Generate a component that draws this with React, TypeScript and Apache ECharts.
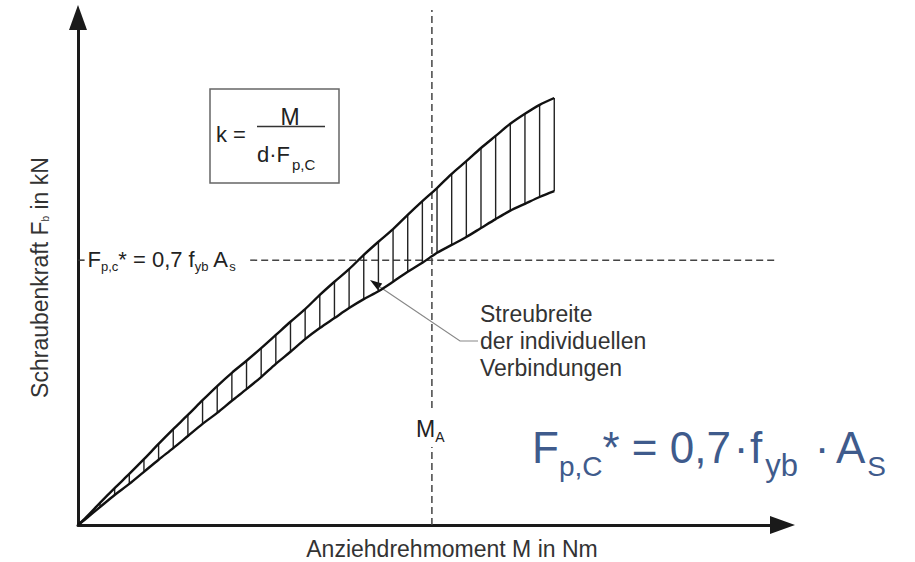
import React, { useEffect, useRef } from 'react';
import * as echarts from 'echarts';

// Torque positions (arbitrary units) where the scatter band is sampled / hatched
const torque = [0, 1, 3, 5, 7, 9, 11, 13, 15, 17, 19, 21, 23, 25, 27, 29, 31, 33, 35, 37, 39, 41, 43, 45, 47, 49, 51, 53, 55, 57, 59, 61, 63, 65];
// Upper bound of bolt force (arbitrary units)
const upperForce = [0, 1.3, 4.2, 7.0, 9.7, 12.5, 15.4, 18.2, 20.9, 23.7, 26.4, 28.9, 31.2, 33.6, 36.1, 38.6, 41.0, 43.7, 46.2, 48.6, 51.3, 53.8, 56.2, 58.9, 61.5, 64.0, 66.7, 69.1, 71.6, 73.9, 76.2, 78.1, 79.8, 81.1];
// Lower bound of bolt force
const lowerForce = [0, 1.1, 3.4, 5.7, 7.8, 10.1, 12.4, 14.6, 16.9, 19.2, 21.3, 23.6, 25.8, 28.1, 30.6, 32.9, 35.3, 37.4, 39.3, 41.2, 42.9, 44.4, 46.2, 48.1, 49.8, 51.7, 53.2, 54.7, 56.4, 58.1, 59.7, 61.0, 62.3, 63.4];

const fStar = 50.3; // F_p,C* level
const mA = 48.3; // tightening moment M_A
const fStarLineRange = [23.5, 95.5];
const mALower = [0, 14.8];
const mAUpper = [22.2, 97.8];
const axisMaxX = 96.15;
const axisMaxY = 96.39;

const xAxisName = 'Anziehdrehmoment M in Nm';
const yAxisName = '{m|Schraubenkraft F}{s|b}{m| in kN}';
const annotationText = 'Streubreite\nder individuellen\nVerbindungen';

const FONT = '"Liberation Sans", Arial, Helvetica, sans-serif';
const BLUE = '#3f5b8c';

export default function App() {
  const ref = useRef<HTMLDivElement>(null);

  useEffect(() => {
    if (!ref.current) return;
    const chart = echarts.init(ref.current, null, { renderer: 'svg' });

    const upperData = torque.map((x, i) => [x, upperForce[i]]);
    const lowerData = torque.map((x, i) => [x, lowerForce[i]]);
    const hatchData = torque.map((x, i) => [x, lowerForce[i], upperForce[i]]).filter((d) => d[0] >= 3);

    const dashStyle = { color: '#444', width: 1.5, type: [7, 4] as any };

    const axisCommon = {
      type: 'value' as const,
      min: 0,
      axisLine: {
        show: true,
        symbol: ['none', 'triangle'],
        symbolSize: [18, 25],
        lineStyle: { color: '#1a1a1a', width: 3 },
      },
      axisTick: { show: false },
      axisLabel: { show: false },
      splitLine: { show: false },
    };

    const option: any = {
      animation: false,
      backgroundColor: '#ffffff',
      grid: { left: 78, top: 17.5, width: 704.5, height: 507.5 },
      xAxis: { ...axisCommon, max: axisMaxX },
      yAxis: { ...axisCommon, max: axisMaxY },
      series: [
        {
          type: 'custom',
          silent: true,
          data: hatchData,
          encode: { x: 0, y: [1, 2] },
          renderItem: (params: any, api: any) => {
            const x = api.value(0);
            const p1 = api.coord([x, api.value(1)]);
            const p2 = api.coord([x, api.value(2)]);
            return {
              type: 'line',
              shape: { x1: p1[0], y1: p1[1], x2: p2[0], y2: p2[1] },
              style: { stroke: '#222', lineWidth: 1.4 },
            };
          },
          z: 2,
        },
        {
          type: 'line',
          silent: true,
          data: upperData,
          symbol: 'none',
          smooth: 0.3,
          lineStyle: { color: '#111', width: 2.4 },
          z: 3,
        },
        {
          type: 'line',
          silent: true,
          data: lowerData,
          symbol: 'none',
          smooth: 0.3,
          lineStyle: { color: '#111', width: 2.4 },
          z: 3,
        },
        {
          type: 'line',
          silent: true,
          data: [[fStarLineRange[0], fStar], [fStarLineRange[1], fStar]],
          symbol: 'none',
          lineStyle: dashStyle,
          z: 1,
        },
        {
          type: 'line',
          silent: true,
          data: [[0, fStar], [0.9, fStar]],
          symbol: 'none',
          lineStyle: { color: '#333', width: 1.5 },
          z: 1,
        },
        {
          type: 'line',
          silent: true,
          clip: false,
          data: [[mA, mALower[0]], [mA, mALower[1]]],
          symbol: 'none',
          lineStyle: dashStyle,
          z: 1,
        },
        {
          type: 'line',
          silent: true,
          clip: false,
          data: [[mA, mAUpper[0]], [mA, mAUpper[1]]],
          symbol: 'none',
          lineStyle: dashStyle,
          z: 1,
        },
      ],
      graphic: [
        // formula box
        {
          type: 'rect',
          shape: { x: 210, y: 89, width: 129, height: 94 },
          style: { fill: 'none', stroke: '#666', lineWidth: 1.5 },
        },
        {
          type: 'text',
          x: 216,
          y: 134.4,
          style: { text: 'k =', fontSize: 22, fontFamily: FONT, fill: '#222', align: 'left', verticalAlign: 'middle' },
        },
        {
          type: 'line',
          shape: { x1: 257, y1: 126.5, x2: 325, y2: 126.5 },
          style: { stroke: '#333', lineWidth: 1.3 },
        },
        {
          type: 'text',
          x: 290,
          y: 117,
          style: { text: 'M', fontSize: 23, fontFamily: FONT, fill: '#222', align: 'center', verticalAlign: 'middle' },
        },
        {
          type: 'text',
          x: 257,
          y: 154.4,
          style: {
            text: '{m|d·F}{s|p,C}',
            align: 'left',
            verticalAlign: 'middle',
            rich: {
              m: { fontSize: 22, fontFamily: FONT, fill: '#222' },
              s: { fontSize: 15, fontFamily: FONT, fill: '#222', padding: [21, 0, 0, 2] },
            },
          },
        },
        // F_p,c* label on the y axis
        {
          type: 'text',
          x: 87.5,
          y: 259.1,
          style: {
            text: '{m|F}{s|p,c}{m|* = 0,7 f}{s|yb}{m| A}{s|s}',
            align: 'left',
            verticalAlign: 'middle',
            rich: {
              m: { fontSize: 22, fontFamily: FONT, fill: '#222' },
              s: { fontSize: 13, fontFamily: FONT, fill: '#222', padding: [14, 0, 0, 0] },
            },
          },
        },
        // M_A label
        {
          type: 'text',
          x: 416,
          y: 429,
          style: {
            text: '{m|M}{s|A}',
            align: 'left',
            verticalAlign: 'middle',
            rich: {
              m: { fontSize: 23, fontFamily: FONT, fill: '#222' },
              s: { fontSize: 14, fontFamily: FONT, fill: '#222', padding: [16, 0, 0, 0] },
            },
          },
        },
        // scatter annotation
        {
          type: 'text',
          x: 480,
          y: 340.7,
          style: {
            text: annotationText,
            fontSize: 23,
            lineHeight: 27,
            fontFamily: FONT,
            fill: '#333',
            align: 'left',
            verticalAlign: 'middle',
          },
        },
        {
          type: 'polyline',
          shape: { points: [[478, 341], [460, 341], [380, 287]] },
          style: { stroke: '#888', lineWidth: 1.2, fill: 'none' },
        },
        {
          type: 'polygon',
          shape: { points: [[370, 280], [382.2, 283.4], [377.7, 290]] },
          style: { fill: '#111' },
        },
        // axis names
        {
          type: 'text',
          x: 452,
          y: 549,
          style: { text: xAxisName, fontSize: 23, fontFamily: FONT, fill: '#333', align: 'center', verticalAlign: 'middle' },
        },
        {
          type: 'text',
          x: 40,
          y: 277.5,
          rotation: Math.PI / 2,
          style: {
            text: yAxisName,
            align: 'center',
            verticalAlign: 'middle',
            rich: {
              m: { fontSize: 23, fontFamily: FONT, fill: '#333' },
              s: { fontSize: 10, fontFamily: FONT, fill: '#333', padding: [11, 0, 0, 0] },
            },
          },
        },
        // big blue formula
        {
          type: 'text',
          x: 532,
          y: 447.8,
          style: {
            text: '{m|F}{s|p,C}{m|* = 0,7}',
            align: 'left',
            verticalAlign: 'middle',
            rich: {
              m: { fontSize: 44, fontFamily: FONT, fill: BLUE },
              s: { fontSize: 28, fontFamily: FONT, fill: BLUE, padding: [37, 0, 0, 0] },
            },
          },
        },
        {
          type: 'text',
          x: 741,
          y: 447.8,
          style: { text: '·', fontSize: 44, fontFamily: FONT, fill: BLUE, align: 'center', verticalAlign: 'middle' },
        },
        {
          type: 'text',
          x: 750,
          y: 447.8,
          style: {
            text: '{m|f}{s|yb}',
            align: 'left',
            verticalAlign: 'middle',
            rich: {
              m: { fontSize: 44, fontFamily: FONT, fill: BLUE },
              s: { fontSize: 31, fontFamily: FONT, fill: BLUE, padding: [36, 0, 0, 3] },
            },
          },
        },
        {
          type: 'text',
          x: 822,
          y: 447.8,
          style: { text: '·', fontSize: 44, fontFamily: FONT, fill: BLUE, align: 'center', verticalAlign: 'middle' },
        },
        {
          type: 'text',
          x: 836,
          y: 447.8,
          style: {
            text: '{m|A}{s|S}',
            align: 'left',
            verticalAlign: 'middle',
            rich: {
              m: { fontSize: 44, fontFamily: FONT, fill: BLUE },
              s: { fontSize: 28, fontFamily: FONT, fill: BLUE, padding: [37, 0, 0, 2] },
            },
          },
        },
      ],
    };

    chart.setOption(option);
    return () => chart.dispose();
  }, []);

  return (
    <div
      ref={ref}
      style={{ position: 'fixed', left: 0, top: 0, width: 915, height: 562, background: '#fff' }}
    />
  );
}
